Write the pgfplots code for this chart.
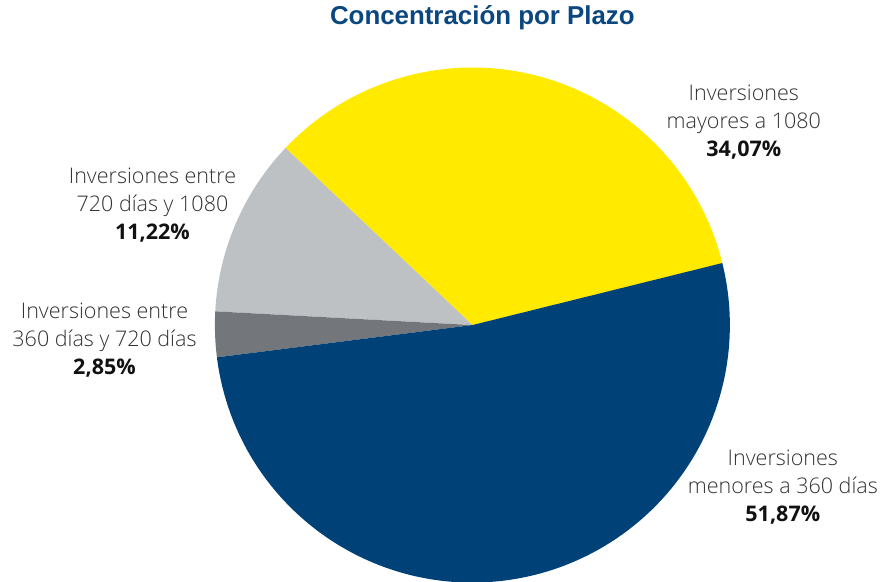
\documentclass[border=0pt]{standalone}
\usepackage{pgfplots}
\pgfplotsset{compat=1.18}
\usepackage{fontspec}
\setmainfont{Open Sans Light}[BoldFont={Open Sans Bold}]
\newfontfamily\titlefont{Liberation Sans}

\definecolor{pieyellow}{HTML}{FFEA00}
\definecolor{pielight}{HTML}{BEC1C3}
\definecolor{piedark}{HTML}{73777B}
\definecolor{pieblue}{HTML}{004278}
\definecolor{titleblue}{HTML}{0A4680}
\definecolor{labgray}{HTML}{333333}
\definecolor{numblack}{HTML}{111111}

\tikzset{
  lab/.style={align=center, text=labgray,
    font=\fontsize{15.3}{19.7}\selectfont}
}
\newcommand{\num}[1]{\textbf{\color{numblack}#1}}

\begin{document}
\begin{tikzpicture}
\path[use as bounding box] (0,0) rectangle (22.075cm,14.55cm);
\begin{axis}[
  x=0.025cm, y=0.025cm,
  xmin=0, xmax=883, ymin=0, ymax=582,
  scale only axis, hide axis, clip=false
]
% shares in percent, drawn counter-clockwise from 13.9 degrees
\foreach \p/\c [remember=\e as \s (initially 13.9)] in
  {34.07/pieyellow, 11.22/pielight, 2.85/piedark, 51.87/pieblue} {
  \pgfmathsetmacro\e{\s+3.6*\p}
  \edef\slice{\noexpand\fill[\c] (axis cs:472.5,257) -- ++(\s:6.4375cm)
    arc[start angle=\s, end angle=\e, radius=6.4375cm] -- cycle;}
  \slice
}

\node[text=titleblue, font=\titlefont\bfseries\fontsize{18.4}{22}\selectfont]
  at (axis cs:482.5,564) {Concentración por Plazo};

\node[lab] at (axis cs:744,460) {Inversiones\\mayores a 1080\\\num{34,07\%}};
\node[lab] at (axis cs:152.5,377) {Inversiones entre\\720 días y 1080\\\num{11,22\%}};
\node[lab] at (axis cs:104.5,242) {Inversiones entre\\360 días y 720 días\\\num{2,85\%}};
\node[lab] at (axis cs:783,95) {Inversiones\\menores a 360 días\\\num{51,87\%}};
\end{axis}
\end{tikzpicture}
\end{document}
